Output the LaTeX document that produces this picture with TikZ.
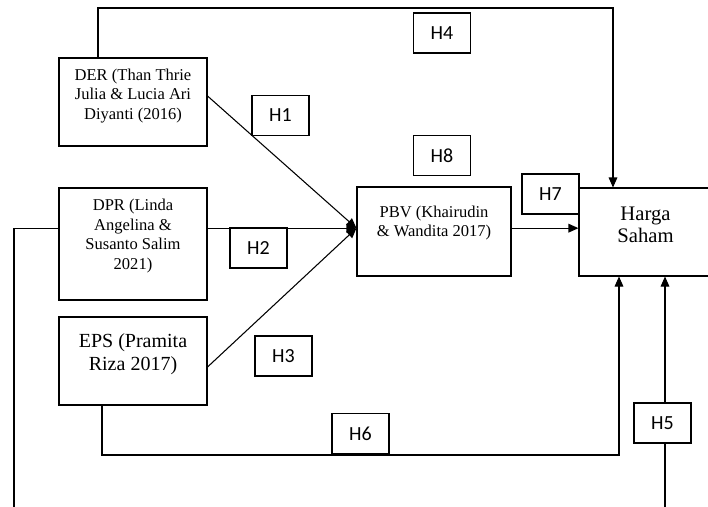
\documentclass[tikz,border=0pt]{standalone}
\usepackage{fontspec}
\setmainfont{Liberation Serif}
\newfontfamily\hypfont{Carlito}
\usetikzlibrary{arrows.meta}
\newlength\pu
\setlength\pu{0.75pt}
\tikzset{
  var/.style={draw, line width=0.8pt, minimum width=148\pu, inner sep=0pt},
  hyp/.style={draw, fill=white, line width=0.8pt, minimum width=57\pu, minimum height=40\pu,
    inner sep=0pt, font=\hypfont\fontsize{15}{17}\selectfont},
  link/.style={line width=0.8pt},
  arrow/.style={link, -{Triangle[length=7.5pt,width=6.5pt]}}
}
\begin{document}
\begin{tikzpicture}[x=\pu, y=-\pu]
    \useasboundingbox (0,0) rectangle (708,507);
    \clip (0,0) rectangle (708,507);

    % variables
    \node[var, minimum height=88\pu] (der) at (133,102) {};
    \node[var, minimum height=112\pu] (dpr) at (133,244) {};
    \node[var, minimum height=88\pu] (eps) at (133,361) {};
    \node[var, minimum width=154\pu, minimum height=89\pu] (pbv) at (434,231.5) {};
    \node[var, minimum width=133\pu, minimum height=88\pu] (harga) at (645.5,232) {};

    \node[align=center, font=\fontsize{12.4}{14.6}\selectfont] (dertxt) at (133,96)
        {DER (Than Thrie\\Julia \& Lucia Ari\\Diyanti (2016)};
    \node[align=center, font=\fontsize{12.4}{14.6}\selectfont] (dprtxt) at (133,236)
        {DPR (Linda\\Angelina \&\\Susanto Salim\\2021)};
    \node[align=center, font=\fontsize{15}{17.3}\selectfont] (epstxt) at (133,354)
        {EPS (Pramita\\Riza 2017)};
    \node[align=center, font=\fontsize{12.4}{13.8}\selectfont] (pbvtxt) at (434,223)
        {PBV (Khairudin\\\& Wandita 2017)};
    \node[align=center, font=\fontsize{15.5}{16.8}\selectfont] (hargatxt) at (645.5,225)
        {Harga\\Saham};

    % routing points
    \coordinate (topl) at (98,8);
    \coordinate (topr) at (613,8);
    \coordinate (botl) at (102,455);
    \coordinate (botr) at (619,455);
    \coordinate (farl) at (14,510);
    \coordinate (farr) at (665,510);
    \coordinate (mid) at ([yshift=2.5pt]pbv.west);

    % connectors
    \draw[arrow] ([yshift=4.5pt]der.east) -- (mid);
    \draw[arrow] (dpr.east |- mid) -- (mid);
    \draw[arrow] ([yshift=-4.5pt]eps.east) -- (mid);
    \draw[arrow] (pbv.east |- mid) -- (harga.west |- mid);
    \draw[arrow] (topl |- der.north) -- (topl) -- (topr) -- (topr |- harga.north);
    \draw[arrow] (botl |- eps.south) -- (botl) -- (botr) -- (botr |- harga.south);
    \draw[arrow] (farr) -- (farr |- harga.south);
    \draw[link] (dpr.west |- mid) -| (farl);

    % hypotheses
    \node[hyp] (h1) at (280.5,115.5) {H1};
    \node[hyp] (h2) at (258.5,248) {H2};
    \node[hyp] (h3) at (283.5,356) {H3};
    \node[hyp] (h4) at (442,33) {H4};
    \node[hyp] (h5) at (662.5,423) {H5};
    \node[hyp] (h6) at (360.5,433.5) {H6};
    \node[hyp] (h7) at (550.5,194) {H7};
    \node[hyp] (h8) at (442,155.5) {H8};
\end{tikzpicture}
\end{document}
